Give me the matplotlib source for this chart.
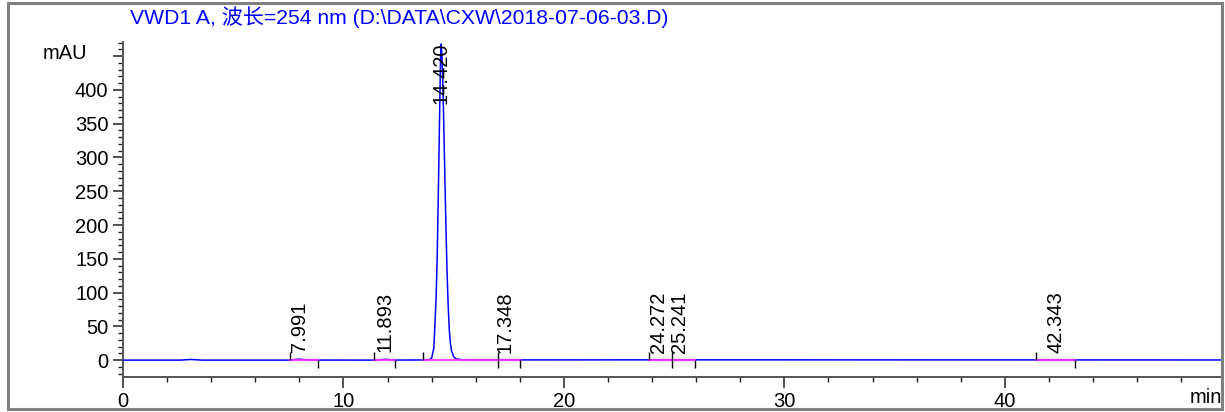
import matplotlib
matplotlib.use("Agg")
import matplotlib.pyplot as plt
from matplotlib.patches import Rectangle
from matplotlib.ticker import MultipleLocator, FixedLocator

# ---- data ----
title_text = "VWD1 A, 波长=254 nm (D:\\DATA\\CXW\\2018-07-06-03.D)"

trace_time = [0.0, 2.6, 2.9, 3.1, 3.3, 3.6, 7.6, 7.8, 8.0, 8.2, 8.5,
              11.4, 11.7, 11.9, 12.1, 12.4, 13.6, 13.9, 14.0, 14.1, 14.2,
              14.25, 14.3, 14.35, 14.4, 14.43, 14.46, 14.5, 14.55, 14.6,
              14.65, 14.7, 14.75, 14.8, 14.85, 14.9, 15.0, 15.1, 15.3, 15.6,
              17.0, 17.35, 18.0, 24.3, 25.2, 42.3, 49.85]
trace_mau = [0.0, 0.0, 0.6, 1.0, 0.5, 0.0, 0.0, 0.8, 1.5, 0.8, 0.1,
             0.0, 0.6, 1.2, 0.6, 0.1, 0.2, 0.8, 3.0, 18.0, 90.0,
             150.0, 240.0, 340.0, 440.0, 468.0, 455.0, 420.0, 350.0, 270.0,
             195.0, 130.0, 80.0, 45.0, 25.0, 14.0, 5.0, 2.0, 0.8, 0.4,
             0.4, 0.5, 0.3, 0.4, 0.4, 0.3, 0.2]

peak_rt = [7.991, 11.893, 14.420, 17.348, 24.272, 25.241, 42.343]
peak_labels = ["7.991", "11.893", "14.420", "17.348", "24.272", "25.241", "42.343"]
peak_height = [1.5, 1.2, 468.0, 0.5, 0.4, 0.4, 0.3]
base_start = [7.57, 11.39, 13.62, 17.00, 23.84, 24.90, 41.43]
base_end = [8.83, 12.36, 17.00, 18.02, 24.90, 25.96, 43.20]

x_major = [0, 10, 20, 30, 40]
y_major = [0, 50, 100, 150, 200, 250, 300, 350, 400, 450]
y_labels = ["0", "50", "100", "150", "200", "250", "300", "350", "400", ""]
y_unit = "mAU"
x_unit = "min"

# ---- styling ----
FONT = ["Liberation Sans", "Noto Sans CJK SC", "DejaVu Sans"]
plt.rcParams["font.family"] = FONT
FS = 14.5
XMAX, YMIN, YMAX = 49.85, -25, 471
axis_col = "#555555"

fig = plt.figure(figsize=(12.25, 4.12), dpi=100)
ax = fig.add_axes([123 / 1225, 1 - 377 / 412, (1222 - 123) / 1225, (377 - 42) / 412])

# outer frame
fig.patches.append(Rectangle((8 / 1225, 3 / 412), (1222 - 8) / 1225, (409 - 3) / 412,
                             transform=fig.transFigure, fill=False,
                             edgecolor="#808080", linewidth=2.2))

# trace
ax.plot(trace_time, trace_mau, color="#0000ff", linewidth=1.1, zorder=3)

# integration baselines and markers
tick_len = 12
for s, e in zip(base_start, base_end):
    ax.plot([s, e], [0, 0], color="#ff33ff", linewidth=1.6, zorder=4, alpha=0.85)
ax.vlines(base_start, 0, tick_len, color="black", linewidth=1.0, zorder=5)
ax.vlines(base_end, -tick_len, 0, color="black", linewidth=1.0, zorder=5)

# retention time labels
label_len = 92
for rt, lab, h in zip(peak_rt, peak_labels, peak_height):
    y = min(h + 10.5, YMAX - label_len)
    ax.text(rt, y, lab, rotation=90, ha="center", va="bottom", fontsize=FS,
            color="black", zorder=6)

ax.set_xlim(0, XMAX)
ax.set_ylim(YMIN, YMAX)

for side in ("top", "right"):
    ax.spines[side].set_visible(False)
for side in ("left", "bottom"):
    ax.spines[side].set_color(axis_col)
    ax.spines[side].set_linewidth(1.4)

ax.xaxis.set_major_locator(FixedLocator(x_major))
ax.xaxis.set_minor_locator(MultipleLocator(2))
ax.set_xticklabels([str(v) for v in x_major])
ax.yaxis.set_major_locator(FixedLocator(y_major))
ax.yaxis.set_minor_locator(MultipleLocator(10))
ax.set_yticklabels(y_labels)

ax.tick_params(axis="x", which="major", direction="out", length=8, width=1.1,
               color="#222222", pad=3, labelsize=FS)
ax.tick_params(axis="x", which="minor", direction="out", length=3.5, width=1.0,
               color="#222222")
ax.tick_params(axis="y", which="major", direction="out", length=7.5, width=1.1,
               color="#222222", pad=3, labelsize=FS)
ax.tick_params(axis="y", which="minor", direction="out", length=3.8, width=1.0,
               color="#222222")

ax.text(1.0, -11 / 335, x_unit, transform=ax.transAxes, ha="right", va="top",
        fontsize=FS)
ax.annotate(y_unit, xy=(0, y_major[-1]), xycoords=("axes fraction", "data"),
            xytext=(-36, 3), textcoords="offset pixels", ha="right", va="center",
            fontsize=FS)

fig.text(130 / 1225, 1 - 17 / 412, title_text, color="#0000ff", fontsize=15.2,
         ha="left", va="center", family=FONT)

fig.savefig("out.png", dpi=100)
